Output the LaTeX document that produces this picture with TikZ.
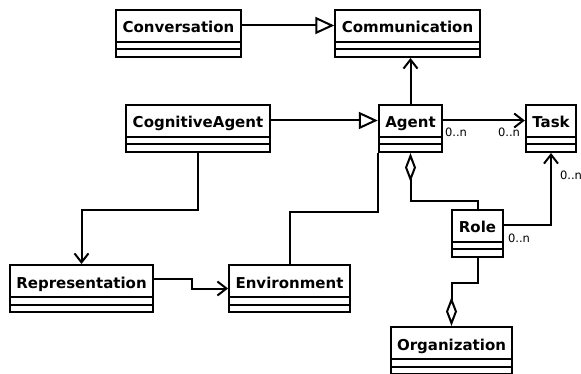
\documentclass[tikz,border=0pt]{standalone}
\usepackage{fontspec}
\setmainfont{DejaVu Sans}
\usetikzlibrary{shapes.multipart}
\usetikzlibrary{arrows.meta}

\tikzset{
  umlclass/.style={draw, line width=2pt, rectangle split, rectangle split parts=3,
    rectangle split empty part height=5.5pt, inner xsep=6.5pt, inner ysep=0pt,
    font=\fontsize{15pt}{18pt}\selectfont\bfseries, anchor=north},
  conn/.style={line width=2pt},
  gen/.style={conn, -{Triangle[open,length=19pt,width=17pt]}},
  assoc/.style={conn, -{Straight Barb[length=9pt,width=14pt]}},
  aggr/.style={conn, {Diamond[open,length=29pt,width=11pt]}-},
  mult/.style={font=\fontsize{11.5pt}{13pt}\selectfont, inner sep=0pt}
}
\newcommand{\classname}[1]{\rule[-8pt]{0pt}{30pt}#1}

\begin{document}
\begin{tikzpicture}[x=1pt,y=-1pt]
 \useasboundingbox (0,0) rectangle (581,374);
 \node[umlclass] (Conversation) at (178.5,9) {\classname{Conversation}};
 \node[umlclass] (Communication) at (407.5,9) {\classname{Communication}};
 \node[umlclass] (CognitiveAgent) at (198,104) {\classname{CognitiveAgent}};
 \node[umlclass] (Agent) at (410.5,104) {\classname{Agent}};
 \node[umlclass] (Task) at (551,104) {\classname{Task}};
 \node[umlclass] (Role) at (477.5,209) {\classname{Role}};
 \node[umlclass] (Representation) at (81.5,264) {\classname{Representation}};
 \node[umlclass] (Environment) at (289.5,264) {\classname{Environment}};
 \node[umlclass] (Organization) at (451.5,326) {\classname{Organization}};
 % inheritance
 \draw[gen] ([yshift=8pt]Conversation.east) -- ([yshift=8pt]Communication.west);
 \draw[gen] ([yshift=8pt]CognitiveAgent.east) -- ([yshift=8pt]Agent.west);
 % associations
 \draw[assoc] (Agent.north) -- (Agent.north |- Communication.south);
 \draw[assoc] ([yshift=8pt]Agent.east) -- ([yshift=8pt]Task.west);
 \draw[assoc] (CognitiveAgent.south) -- ++(0,57) -| (Representation.north);
 \draw[assoc] ([yshift=10pt]Representation.east) -- ++(38,0) |- (Environment.west);
 \draw[conn] (Agent.south west) -- ++(0,59) -| (Environment.north);
 \draw[assoc] ([yshift=8pt]Role.east) -| (Task.south);
 % aggregations
 \draw[aggr] (Agent.south) -- ++(0,48) -| (Role.north);
 \draw[aggr] (Organization.north) -- ++(0,-43) -| (Role.south);
 % multiplicities
 \node[mult] (m1) at (456,132) {0..n};
 \node[mult] (m2) at (509,132) {0..n};
 \node[mult] (m3) at (571,175) {0..n};
 \node[mult] (m4) at (519,238) {0..n};
\end{tikzpicture}
\end{document}
